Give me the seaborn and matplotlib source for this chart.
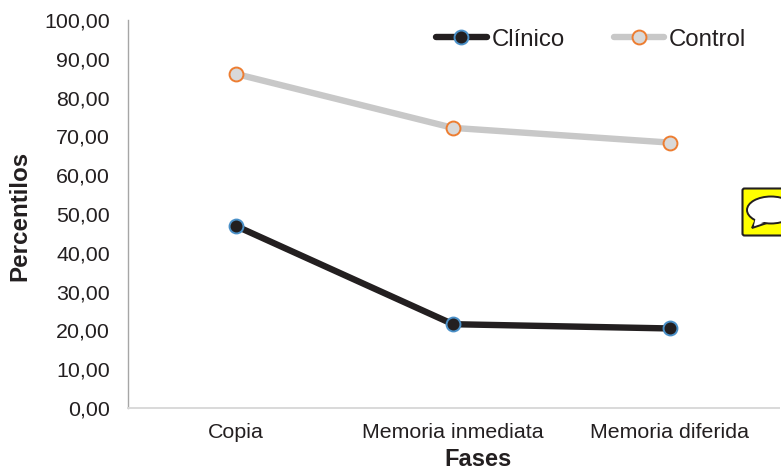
import pandas as pd
import seaborn as sns
import matplotlib
matplotlib.use('Agg')
import matplotlib.pyplot as plt
import matplotlib.transforms as mtransforms
from matplotlib.lines import Line2D
from matplotlib.patches import Ellipse, FancyBboxPatch, Polygon

#Values
fases = ['Copia', 'Memoria inmediata', 'Memoria diferida']
clinico = [46.9, 21.6, 20.5]
control = [86.1, 72.2, 68.4]
yTicks = [0, 10, 20, 30, 40, 50, 60, 70, 80, 90, 100]
yLabels = ['0,00', '10,00', '20,00', '30,00', '40,00', '50,00', '60,00', '70,00', '80,00', '90,00', '100,00']

frame = pd.DataFrame({'fase': fases * 2,
                      'percentil': clinico + control,
                      'grupo': ['Clínico'] * 3 + ['Control'] * 3})

#Plot params
sns.set_style('white')
plt.rcParams['font.family'] = ['Liberation Sans', 'DejaVu Sans']
textColor = '#231f20'
lineColors = {'Clínico': '#231f20', 'Control': '#c8c8c8'}
faceColors = {'Clínico': '#231f20', 'Control': '#d9d9d9'}
edgeColors = {'Clínico': '#4a90c8', 'Control': '#ed7d31'}

fig = plt.figure(figsize=(7.81, 4.70), dpi=100)
ax = fig.add_axes([127.5 / 781, 1 - 408 / 470, 651 / 781, 388 / 470])

sns.lineplot(x='fase', y='percentil', hue='grupo', data=frame, palette=lineColors, linewidth=4.6,
             sort=False, legend=False, ax=ax, marker='o', markersize=10)

for line, name in zip(ax.lines, ['Clínico', 'Control']):
    line.set_markerfacecolor(faceColors[name])
    line.set_markeredgecolor(edgeColors[name])
    line.set_markeredgewidth(1.4)
    line.set_solid_capstyle('round')

ax.set_xlim(-0.5, 2.5)
ax.set_ylim(0, 100)
ax.set_yticks(yTicks)
ax.set_yticklabels(yLabels)
ax.tick_params(axis='both', length=0, labelsize=15.4, labelcolor=textColor)
ax.tick_params(axis='y', pad=12.5)
ax.tick_params(axis='x', pad=11)
ax.set_xlabel('Fases', fontsize=17, fontweight='bold', color=textColor)
ax.set_ylabel('Percentilos', fontsize=17.4, fontweight='bold', color=textColor)
ax.xaxis.set_label_coords(0.538, -0.102)
ax.yaxis.set_label_coords(-0.148, 0.495)

sns.despine(ax=ax)
ax.spines['left'].set_color('#a6a6a6')
ax.spines['left'].set_linewidth(1)
ax.spines['bottom'].set_color('#d9d9d9')
ax.spines['bottom'].set_linewidth(1.4)

handles = [Line2D([], [], color=lineColors[n], lw=4.6, marker='o', markersize=10, solid_capstyle='round',
                  markerfacecolor=faceColors[n], markeredgecolor=edgeColors[n], markeredgewidth=1.4, label=n)
           for n in ['Clínico', 'Control']]
ax.legend(handles=handles, loc='upper right', bbox_to_anchor=(0.9655, 1.002), ncol=2, frameon=False, fontsize=17.3,
          handlelength=2.1, handletextpad=0.2, columnspacing=2.05, labelcolor=textColor, borderaxespad=0)

#Speech bubble badge at the right edge, in pixel coordinates of the image
pix = mtransforms.Affine2D().scale(1 / 781, -1 / 470).translate(0, 1) + fig.transFigure
fig.add_artist(FancyBboxPatch((742.5, 188.5), 50, 47, boxstyle='round,pad=0,rounding_size=2', facecolor='#ffff00',
                              edgecolor='#231f20', linewidth=1.5, transform=pix))
fig.add_artist(Polygon([(756, 219), (752, 228), (767, 223)], closed=True, facecolor='white', edgecolor='#231f20',
                       linewidth=1.4, transform=pix))
fig.add_artist(Ellipse((771, 210), 48, 27, facecolor='white', edgecolor='#231f20', linewidth=1.4, transform=pix))
fig.add_artist(Polygon([(756, 216), (754, 225.5), (767, 221)], closed=True, facecolor='white', edgecolor='none',
                       transform=pix))

fig.savefig('out.png', dpi=100)
